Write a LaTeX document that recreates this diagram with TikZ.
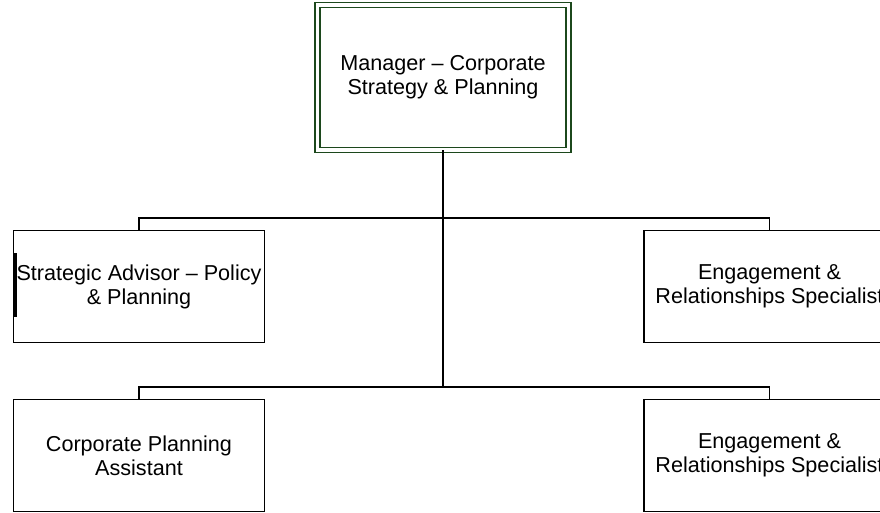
\documentclass[tikz,border=0pt]{standalone}
\usepackage{fontspec}
\setmainfont{Liberation Sans}
\definecolor{mgrgreen}{RGB}{28,72,28}
\begin{document}
\begin{tikzpicture}[x=1pt,y=-1pt,
  every node/.style={inner sep=0pt, outer sep=0pt},
  posbox/.style={draw=black, line width=1.6pt, fill=white,
    minimum width=251pt, minimum height=112pt, align=center,
    font=\fontsize{21.6pt}{24pt}\selectfont},
  mgrbox/.style={draw=mgrgreen, line width=1.5pt, double=white, double distance=3.5pt,
    minimum width=251pt, minimum height=145pt, align=center,
    font=\fontsize{21.6pt}{24pt}\selectfont},
  conn/.style={draw=black, line width=1.8pt}]
\useasboundingbox (0,0) rectangle (880,512);
\clip (0,0) rectangle (880,512);
\node[mgrbox] (mgr) at (443,77.5) {Manager – Corporate\\Strategy \& Planning};
\coordinate (j1) at (443,218);
\coordinate (j2) at (443,387);
\node[posbox] (sa) at (139,286.5) {Strategic Advisor – Policy\\\& Planning};
\node[posbox] (ers1) at (769.5,286.5) {Engagement \&\\Relationships Specialist};
\node[posbox] (cpa) at (139,455.5) {Corporate Planning\\Assistant};
\node[posbox] (ers2) at (769.5,455.5) {Engagement \&\\Relationships Specialist};
\draw[conn] (mgr.south) -- (j2);
\draw[conn] (sa.north) |- (j1) -| (ers1.north);
\draw[conn] (cpa.north) |- (j2) -| (ers2.north);
\draw[line width=2.4pt] (15.5,253) -- (15.5,317);
\end{tikzpicture}
\end{document}
